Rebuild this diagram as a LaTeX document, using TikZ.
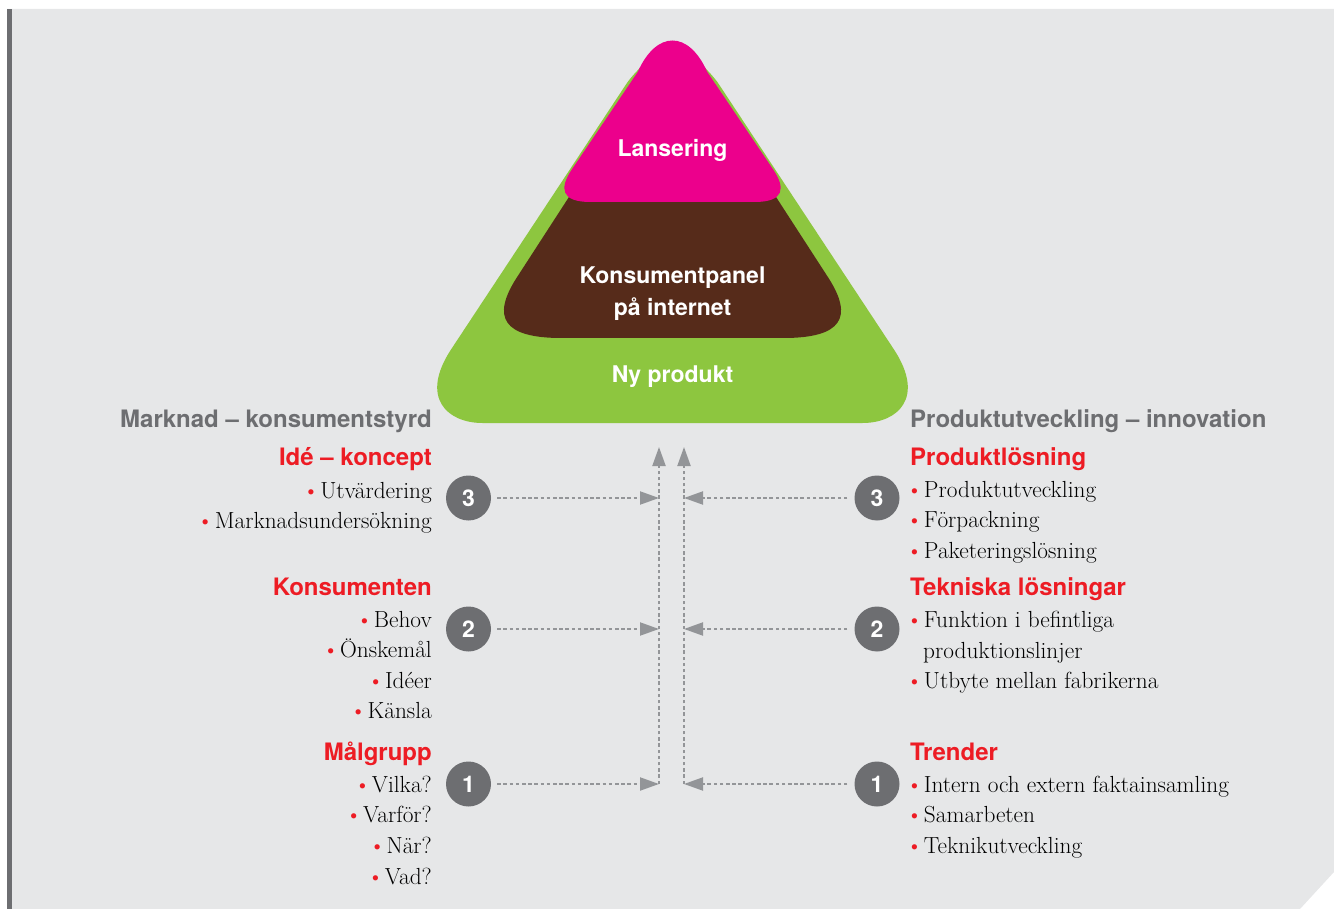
\documentclass[tikz,border=0pt]{standalone}
\usepackage{fontspec}
\setsansfont{TeX Gyre Heros}
\usetikzlibrary{arrows.meta}

\definecolor{bakgrund}{HTML}{E6E7E8}
\definecolor{morkgra}{HTML}{6D6E71}
\definecolor{pilgra}{HTML}{939598}
\definecolor{rod}{HTML}{ED1C24}
\definecolor{rosa}{HTML}{EC008C}
\definecolor{brun}{HTML}{562B1A}
\definecolor{gron}{HTML}{8DC63F}

\tikzset{
	rubrik/.style={font=\sffamily\bfseries\fontsize{24}{28}\selectfont, text=morkgra, inner sep=0pt},
	rubrikrod/.style={rubrik, text=rod},
	punkt/.style={font=\fontsize{23.3}{28}\selectfont, inner sep=0pt},
	pyrtext/.style={font=\sffamily\bfseries\fontsize{23}{28}\selectfont, text=white, inner sep=0pt},
	siffra/.style={circle, fill=morkgra, minimum size=45pt, inner sep=0pt, font=\sffamily\bfseries\fontsize{23}{28}\selectfont, text=white},
	pil/.style={draw=pilgra, line width=2pt, dash pattern=on 3.5pt off 2.7pt, -{Triangle[length=19pt,width=13pt,fill=pilgra]}},
}
\newcommand{\bul}{\hspace{-4pt}{\color{rod}\textbullet}\hspace{1pt}}

\begin{document}
\begin{tikzpicture}[x=1pt,y=-1pt]
	\useasboundingbox (0,0) rectangle (1334,909);

	% background card with cut corner
	\fill[bakgrund] (7,9) -- (1334,9) -- (1334,872) -- (1300,909) -- (7,909) -- cycle;
	\fill[morkgra] (7,9) rectangle (12,909);

	% the pyramid, three layers
	\begin{scope}[shift={(672.5,0)}]
		\fill[gron] (-44.9,82) .. controls (-14,42) and (14,42) .. (44.9,82)
			-- (221.8,350) .. controls (253,398) and (225,423) .. (190,423)
			-- (-190,423) .. controls (-225,423) and (-253,398) .. (-221.8,350) -- cycle;
		\fill[brun] (-99,190) -- (99,190)
			-- (156,278) .. controls (181,317) and (170,338) .. (111,338)
			-- (-111,338) .. controls (-170,338) and (-181,317) .. (-156,278) -- cycle;
		\fill[rosa] (-34.8,72) .. controls (-16,30) and (16,30) .. (34.8,72)
			-- (101,170) .. controls (113,188) and (112,202) .. (82,202)
			-- (-82,202) .. controls (-112,202) and (-113,188) .. (-101,170) -- cycle;
	\end{scope}
	\node[pyrtext, anchor=base] (lansering) at (672.5,157) {Lansering};
	\node[pyrtext, anchor=base] (panel1) at (672.5,284) {Konsumentpanel};
	\node[pyrtext, anchor=base] (panel2) at (672.5,316) {på internet};
	\node[pyrtext, anchor=base] (nyprodukt) at (672.5,382) {Ny produkt};

	% left column
	\node[rubrik, anchor=base east] (marknad) at (432,427) {Marknad – konsumentstyrd};
	\node[rubrikrod, anchor=base east] (ide) at (432,465) {Idé – koncept};
	\node[punkt, anchor=base east] (ide1) at (432,498) {\bul Utvärdering};
	\node[punkt, anchor=base east] (ide2) at (432,528) {\bul Marknadsundersökning};
	\node[rubrikrod, anchor=base east] (kons) at (432,595) {Konsumenten};
	\node[punkt, anchor=base east] (kons1) at (432,627) {\bul Behov};
	\node[punkt, anchor=base east] (kons2) at (432,657.5) {\bul Önskemål};
	\node[punkt, anchor=base east] (kons3) at (432,688) {\bul Idéer};
	\node[punkt, anchor=base east] (kons4) at (432,718.5) {\bul Känsla};
	\node[rubrikrod, anchor=base east] (malgrupp) at (432,760) {Målgrupp};
	\node[punkt, anchor=base east] (mal1) at (432,792) {\bul Vilka?};
	\node[punkt, anchor=base east] (mal2) at (432,822) {\bul Varför?};
	\node[punkt, anchor=base east] (mal3) at (432,853) {\bul När?};
	\node[punkt, anchor=base east] (mal4) at (432,884) {\bul Vad?};

	% right column
	\node[rubrik, anchor=base west] (produkt) at (910,427) {Produktutveckling – innovation};
	\node[rubrikrod, anchor=base west] (losning) at (910,465) {Produktlösning};
	\node[punkt, anchor=base west] (losning1) at (910,497) {\bul Produktutveckling};
	\node[punkt, anchor=base west] (losning2) at (910,527) {\bul Förpackning};
	\node[punkt, anchor=base west] (losning3) at (910,558) {\bul Paketeringslösning};
	\node[rubrikrod, anchor=base west] (teknik) at (910,595) {Tekniska lösningar};
	\node[punkt, anchor=base west] (teknik1) at (910,627) {\bul Funktion i befintliga};
	\node[punkt, anchor=base west] (teknik2) at (923,658) {produktionslinjer};
	\node[punkt, anchor=base west] (teknik3) at (910,688) {\bul Utbyte mellan fabrikerna};
	\node[rubrikrod, anchor=base west] (trender) at (910,760) {Trender};
	\node[punkt, anchor=base west] (trender1) at (910,792) {\bul Intern och extern faktainsamling};
	\node[punkt, anchor=base west] (trender2) at (910,822) {\bul Samarbeten};
	\node[punkt, anchor=base west] (trender3) at (910,853) {\bul Teknikutveckling};

	% numbered steps
	\node[siffra] (v3) at (468.5,498) {3};
	\node[siffra] (v2) at (468.5,629) {2};
	\node[siffra] (v1) at (468.5,784) {1};
	\node[siffra] (h3) at (877,498) {3};
	\node[siffra] (h2) at (877,629) {2};
	\node[siffra] (h1) at (877,784) {1};

	% where the arrows meet the two risers
	\coordinate (vl3) at (659,498);
	\coordinate (vl2) at (659,629);
	\coordinate (vl1) at (659,784);
	\coordinate (vltopp) at (659,447);
	\coordinate (hl3) at (684,498);
	\coordinate (hl2) at (684,629);
	\coordinate (hl1) at (684,784);
	\coordinate (hltopp) at (684,447);

	\draw[pil] (vl1) -- (vltopp);
	\draw[pil] (hl1) -- (hltopp);
	\draw[pil, shorten <=6pt] (v3) -- (vl3);
	\draw[pil, shorten <=6pt] (v2) -- (vl2);
	\draw[pil, shorten <=6pt] (v1) -- (vl1);
	\draw[pil, shorten <=7pt] (h3) -- (hl3);
	\draw[pil, shorten <=7pt] (h2) -- (hl2);
	\draw[pil, shorten <=7pt] (h1) -- (hl1);
\end{tikzpicture}
\end{document}
